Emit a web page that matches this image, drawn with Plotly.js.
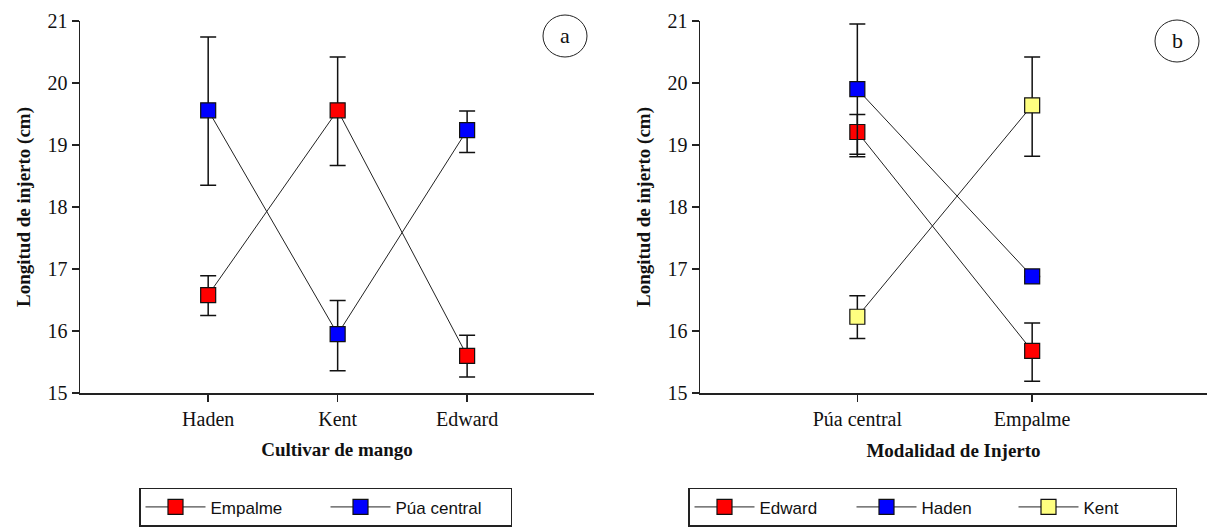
<!DOCTYPE html>
<html><head><meta charset="utf-8">
<script src="https://cdn.plot.ly/plotly-3.0.1.min.js"></script>
<style>body{margin:0;background:#fff}#c{width:1209px;height:528px}</style>
</head><body><div id="c"></div>
<script>
// Panel a
const cultivares = ['Haden', 'Kent', 'Edward'];
const empalmeA = [16.58, 19.56, 15.60];
const empalmeAErrUp = [0.31, 0.86, 0.33];
const empalmeAErrDn = [0.33, 0.89, 0.34];
const puaA = [19.56, 15.95, 19.24];
const puaAErrUp = [1.18, 0.54, 0.31];
const puaAErrDn = [1.21, 0.59, 0.36];
// Panel b
const modalidades = ['Púa central', 'Empalme'];
const edwardB = [19.21, 15.68];
const edwardBErrUp = [0.28, 0.45];
const edwardBErrDn = [0.40, 0.49];
const hadenB = [19.90, 16.88];
const hadenBErrUp = [1.05, 0.0];
const hadenBErrDn = [1.05, 0.0];
const kentB = [16.23, 19.64];
const kentBErrUp = [0.34, 0.78];
const kentBErrDn = [0.35, 0.82];

const serif = 'Liberation Serif, Times New Roman, serif';
function tr(name, x, y, up, dn, color, xa, ya, legend) {
  return {
    type: 'scatter', mode: 'lines+markers', name: name, x: x, y: y,
    xaxis: xa, yaxis: ya, legend: legend,
    line: {color: '#222', width: 1},
    marker: {symbol: 'square', size: 15, color: color, line: {color: '#111', width: 1.2}},
    error_y: {type: 'data', symmetric: false, array: up, arrayminus: dn, color: '#111', thickness: 1.5, width: 8}
  };
}
const data = [
  tr('Empalme', cultivares, empalmeA, empalmeAErrUp, empalmeAErrDn, '#ff0000', 'x', 'y', 'legend'),
  tr('Púa central', cultivares, puaA, puaAErrUp, puaAErrDn, '#0000ff', 'x', 'y', 'legend'),
  tr('Edward', modalidades, edwardB, edwardBErrUp, edwardBErrDn, '#ff0000', 'x2', 'y2', 'legend2'),
  tr('Haden', modalidades, hadenB, hadenBErrUp, hadenBErrDn, '#0000ff', 'x2', 'y2', 'legend2'),
  tr('Kent', modalidades, kentB, kentBErrUp, kentBErrDn, '#ffff80', 'x2', 'y2', 'legend2')
];
const W = 1209;
function xax(domain, range, title) {
  return {domain: domain, type: 'category', range: range, showline: true, linecolor: '#222', linewidth: 1.5,
    ticks: 'outside', ticklen: 7, tickcolor: '#222', tickwidth: 1.5, showgrid: false, zeroline: false,
    tickfont: {family: serif, size: 20, color: '#111'},
    title: {text: '<b>' + title + '</b>', font: {family: serif, size: 19, color: '#111'}, standoff: 14},
    automargin: false, fixedrange: true};
}
function yax(anchor) {
  return {anchor: anchor, domain: [0, 1], range: [15, 21], dtick: 1, showline: true, linecolor: '#222', linewidth: 1.5,
    ticks: 'outside', ticklen: 7, tickcolor: '#222', tickwidth: 1.5, showgrid: false, zeroline: false,
    tickfont: {family: serif, size: 20, color: '#111'},
    title: {text: '<b>Longitud de injerto (cm)</b>', font: {family: serif, size: 19, color: '#111'}, standoff: 12},
    automargin: false, fixedrange: true};
}
const layout = {
  width: 1209, height: 528,
  margin: {l: 0, r: 0, t: 21, b: 135, autoexpand: false},
  paper_bgcolor: '#fff', plot_bgcolor: '#fff',
  showlegend: true,
  xaxis: Object.assign(xax([80 / W, 594 / W], [-0.99, 2.98], 'Cultivar de mango'), {anchor: 'y'}),
  yaxis: yax('x'),
  xaxis2: Object.assign(xax([700 / W, 1207 / W], [-0.9, 2.0], 'Modalidad de Injerto'), {anchor: 'y2'}),
  yaxis2: yax('x2'),
  legend: {orientation: 'h', x: 139 / W, xanchor: 'left', y: -0.255, yanchor: 'top',
    bordercolor: '#222', borderwidth: 1.5, bgcolor: '#fff', itemwidth: 60, entrywidth: 110,
    font: {family: 'Liberation Sans, Arial, sans-serif', size: 17, color: '#111'}},
  legend2: {orientation: 'h', x: 688 / W, xanchor: 'left', y: -0.255, yanchor: 'top',
    bordercolor: '#222', borderwidth: 1.5, bgcolor: '#fff', itemwidth: 60, entrywidth: 87,
    font: {family: 'Liberation Sans, Arial, sans-serif', size: 17, color: '#111'}},
  shapes: [
    {type: 'circle', xref: 'paper', yref: 'paper', x0: 543 / W, x1: 587 / W, y0: (393 - 57) / 372, y1: (393 - 15) / 372, line: {color: '#222', width: 1}},
    {type: 'circle', xref: 'paper', yref: 'paper', x0: 1155 / W, x1: 1199 / W, y0: (393 - 62) / 372, y1: (393 - 20) / 372, line: {color: '#222', width: 1}}
  ],
  annotations: [
    {text: 'a', xref: 'paper', yref: 'paper', x: 565 / W, y: (393 - 36) / 372, xanchor: 'center', yanchor: 'middle', showarrow: false, font: {family: serif, size: 22, color: '#111'}},
    {text: 'b', xref: 'paper', yref: 'paper', x: 1177 / W, y: (393 - 41) / 372, xanchor: 'center', yanchor: 'middle', showarrow: false, font: {family: serif, size: 22, color: '#111'}}
  ]
};
Plotly.newPlot('c', data, layout, {displayModeBar: false, staticPlot: true});
</script></body></html>
